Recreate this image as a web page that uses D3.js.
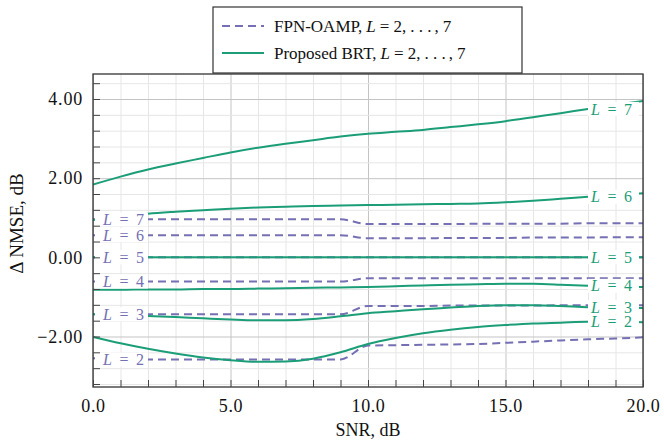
<!DOCTYPE html>
<html><head><meta charset="utf-8">
<script src="https://cdn.jsdelivr.net/npm/d3@7/dist/d3.min.js"></script>
<style>body{margin:0;background:#fff}svg{display:block}text{font-family:"Liberation Serif","Times New Roman",serif}</style>
</head><body>
<svg id="c" width="664" height="441"></svg>
<script>
// ---- data ----
const snr = [0,1,2,3,4,5,6,7,8,9,10,11,12,13,14,15,16,17,18,19,20];
const levels = [2,3,4,5,6,7];
const brtL2 = [-2.01,-2.17,-2.31,-2.43,-2.53,-2.60,-2.64,-2.63,-2.56,-2.40,-2.19,-2.04,-1.92,-1.83,-1.76,-1.71,-1.67,-1.65,-1.63,-1.63,-1.64];
const brtL3 = [-1.44,-1.46,-1.48,-1.51,-1.54,-1.57,-1.59,-1.59,-1.56,-1.49,-1.41,-1.36,-1.31,-1.27,-1.23,-1.21,-1.21,-1.23,-1.26,-1.27,-1.28];
const brtL4 = [-0.82,-0.82,-0.81,-0.81,-0.80,-0.80,-0.79,-0.78,-0.77,-0.76,-0.75,-0.73,-0.71,-0.69,-0.68,-0.67,-0.67,-0.69,-0.72,-0.74,-0.75];
const brtL5 = [0,0,0,0,0,0,0,0,0,0,0,0,0,0,0,0,0,0,0,0,0];
const brtL6 = [0.94,1.02,1.10,1.15,1.19,1.23,1.26,1.28,1.30,1.31,1.32,1.33,1.34,1.35,1.36,1.39,1.43,1.48,1.53,1.58,1.62];
const brtL7 = [1.84,2.04,2.22,2.37,2.51,2.65,2.77,2.87,2.96,3.05,3.12,3.17,3.22,3.29,3.36,3.44,3.54,3.64,3.75,3.85,3.95];
const fpnL2 = [-2.55,-2.57,-2.58,-2.58,-2.58,-2.58,-2.58,-2.58,-2.58,-2.58,-2.23,-2.22,-2.21,-2.20,-2.19,-2.16,-2.13,-2.10,-2.07,-2.05,-2.02];
const fpnL3 = [-1.44,-1.44,-1.44,-1.44,-1.44,-1.44,-1.44,-1.44,-1.44,-1.44,-1.23,-1.23,-1.23,-1.22,-1.22,-1.22,-1.22,-1.21,-1.21,-1.21,-1.21];
const fpnL4 = [-0.61,-0.61,-0.61,-0.61,-0.61,-0.61,-0.61,-0.61,-0.61,-0.61,-0.53,-0.53,-0.53,-0.53,-0.53,-0.53,-0.53,-0.53,-0.53,-0.53,-0.53];
const fpnL5 = [0,0,0,0,0,0,0,0,0,0,0,0,0,0,0,0,0,0,0,0,0];
const fpnL6 = [0.56,0.56,0.56,0.56,0.56,0.56,0.56,0.56,0.56,0.56,0.48,0.48,0.48,0.49,0.49,0.49,0.50,0.50,0.50,0.51,0.51];
const fpnL7 = [0.96,0.96,0.96,0.96,0.96,0.96,0.96,0.96,0.96,0.96,0.84,0.84,0.84,0.84,0.85,0.85,0.85,0.85,0.86,0.86,0.86];
const xTickValues = [0,5,10,15,20];
const xTickLabels = ["0.0","5.0","10.0","15.0","20.0"];
const yTickValues = [-2,0,2,4];
const yTickLabels = ["\u22122.00","0.00","2.00","4.00"];
const legendNames = ["FPN-OAMP, ","Proposed BRT, "];

// ---- layout ----
const L=93, R=643, T=74, B=387;
const green="#1b9e77", purple="#7570b3";
const svg=d3.select("#c");
const x=d3.scaleLinear().domain([0,20]).range([L,R]);
const y=d3.scaleLinear().domain([-3.276,4.632]).range([B,T]);

const minorX=d3.range(0,21,1);
const minorY=d3.range(-3.2,4.41,0.4).map(v=>+v.toFixed(2));

// grid
const g=svg.append("g");
g.append("g").attr("transform",`translate(0,${B})`)
 .call(d3.axisBottom(x).tickValues(minorX).tickSize(-(B-T)).tickFormat(""))
 .call(s=>{s.select(".domain").remove();s.selectAll("line").attr("stroke",d=>d%5===0?"#c4c4c4":"#e6e6e6");});
g.append("g").attr("transform",`translate(${L},0)`)
 .call(d3.axisLeft(y).tickValues(minorY).tickSize(-(R-L)).tickFormat(""))
 .call(s=>{s.select(".domain").remove();s.selectAll("line").attr("stroke",d=>Math.abs(d%2)<1e-6?"#c4c4c4":"#e6e6e6");});

// clip
svg.append("clipPath").attr("id","cp").append("rect").attr("x",L).attr("y",T).attr("width",R-L).attr("height",B-T);
const line=d3.line().x((d,i)=>x(snr[i])).y(d=>y(d)).curve(d3.curveMonotoneX);
const fpn=[fpnL2,fpnL3,fpnL4,fpnL5,fpnL6,fpnL7];
const brt=[brtL2,brtL3,brtL4,brtL5,brtL6,brtL7];
const lg=svg.append("g").attr("clip-path","url(#cp)");
fpn.forEach(s=>lg.append("path").attr("d",line(s)).attr("fill","none").attr("stroke",purple).attr("stroke-width",2).attr("stroke-dasharray","8,5"));
brt.forEach(s=>lg.append("path").attr("d",line(s)).attr("fill","none").attr("stroke",green).attr("stroke-width",2));

// curve labels
function label(xv,yv,k,color,anchor){
  const gg=svg.append("g");
  const r=gg.append("rect").attr("fill","#fff");
  const t=gg.append("text").attr("y",y(yv)).attr("dy","0.35em").attr("font-size",16).attr("fill",color);
  t.append("tspan").attr("font-style","italic").text("L");
  t.append("tspan").attr("dx",3.5).text(" = ");
  t.append("tspan").attr("dx",3.5).text(k);
  if(anchor==="end"){ t.attr("x",x(xv)-4).attr("text-anchor","end"); r.attr("x",x(xv)-53).attr("width",53);}
  else { t.attr("x",x(xv)+3); r.attr("x",x(xv)).attr("width",51);}
  r.attr("y",y(yv)-7).attr("height",14);
}
levels.forEach((k,i)=>label(2,fpn[i][2],k,purple,"end"));
levels.forEach((k,i)=>label(18,brt[i][18],k,green,"start"));

// frame
svg.append("rect").attr("x",L).attr("y",T).attr("width",R-L).attr("height",B-T).attr("fill","none").attr("stroke","#333").attr("stroke-width",1.3);

// axes ticks (inward)
const ax=svg.append("g").attr("transform",`translate(0,${B})`)
 .call(d3.axisBottom(x).tickValues(minorX).tickSize(-7).tickFormat(""));
ax.select(".domain").remove(); ax.selectAll("line").attr("stroke","#444");
const ay=svg.append("g").attr("transform",`translate(${L},0)`)
 .call(d3.axisLeft(y).tickValues(minorY).tickSize(-7).tickFormat(""));
ay.select(".domain").remove(); ay.selectAll("line").attr("stroke","#444");

// tick labels
const xl=svg.append("g").attr("transform",`translate(0,${B})`)
 .call(d3.axisBottom(x).tickValues(xTickValues).tickSize(0).tickPadding(12).tickFormat((d,i)=>xTickLabels[i]));
xl.select(".domain").remove();
xl.selectAll("text").attr("font-size",18).attr("font-family","Liberation Serif").attr("fill","#111").attr("letter-spacing","0.6px");
const yl=svg.append("g").attr("transform",`translate(${L},0)`)
 .call(d3.axisLeft(y).tickValues(yTickValues).tickSize(0).tickPadding(10).tickFormat((d,i)=>yTickLabels[i]));
yl.select(".domain").remove();
yl.selectAll("text").attr("font-size",18).attr("font-family","Liberation Serif").attr("fill","#111").attr("letter-spacing","0.8px");

// axis titles
svg.append("text").attr("x",(L+R)/2).attr("y",436).attr("text-anchor","middle").attr("font-size",18).attr("fill","#111").text("SNR, dB");
svg.append("text").attr("transform",`translate(23,${(T+B)/2-7}) rotate(-90)`).attr("text-anchor","middle").attr("font-size",19).attr("fill","#111").text("\u0394 NMSE, dB");

// legend
const lx0=213, lx1=522, ly0=7, ly1=73;
svg.append("rect").attr("x",lx0).attr("y",ly0).attr("width",lx1-lx0).attr("height",ly1-ly0).attr("fill","#fff").attr("stroke","#333").attr("stroke-width",1.2);
const rows=[{c:purple,d:"8,5",y:26},{c:green,d:null,y:53}];
rows.forEach((r,i)=>{
  const ln=svg.append("line").attr("x1",222).attr("x2",264).attr("y1",r.y).attr("y2",r.y).attr("stroke",r.c).attr("stroke-width",2);
  if(r.d) ln.attr("stroke-dasharray",r.d);
  const t=svg.append("text").attr("x",274).attr("y",r.y).attr("dy","0.35em").attr("font-size",17).attr("fill","#111").text(legendNames[i]);
  const w=t.node().getComputedTextLength();
  const m=svg.append("text").attr("x",274+w+4).attr("y",r.y).attr("dy","0.35em").attr("font-size",17).attr("fill","#111");
  m.append("tspan").attr("font-style","italic").text("L");
  m.append("tspan").attr("dx",4).text("=");
  m.append("tspan").attr("dx",4).text("2,");
  m.append("tspan").attr("dx",4).text(". . .");
  m.append("tspan").attr("dx",3).text(",");
  m.append("tspan").attr("dx",4).text("7");
});
</script>
</body></html>
